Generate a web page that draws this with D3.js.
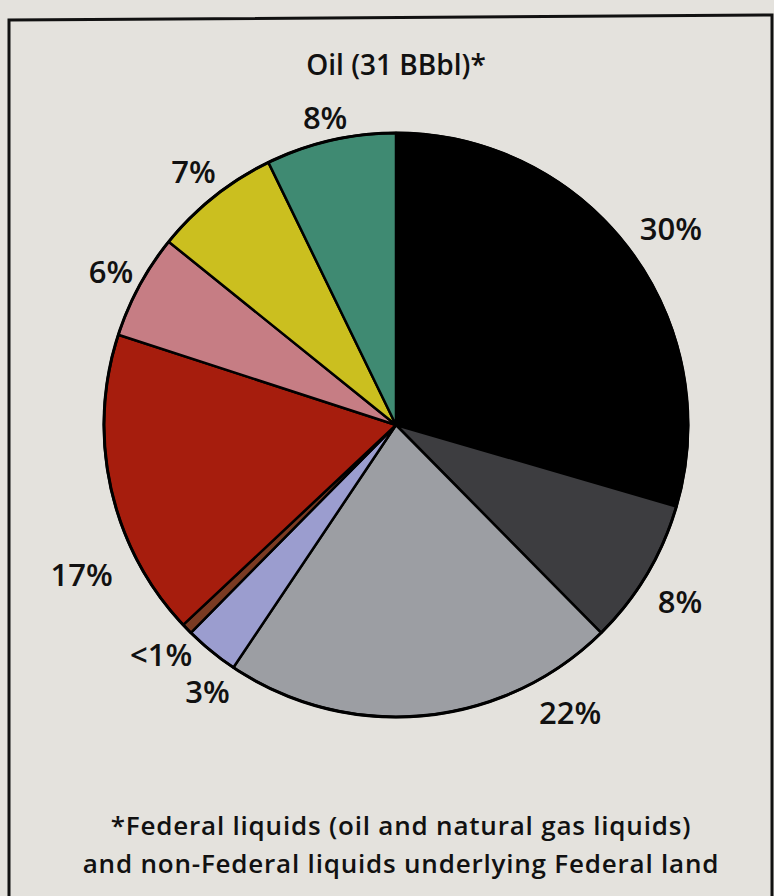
<!DOCTYPE html>
<html>
<head>
<meta charset="utf-8">
<script src="https://cdn.jsdelivr.net/npm/d3@7"></script>
<style>
  html, body { margin: 0; padding: 0; background: #e4e2dd; }
  svg { display: block; }
  text { font-family: "Open Sans", sans-serif; font-weight: 600; fill: #111; }
</style>
</head>
<body>
<svg id="chart"></svg>
<script>
// Slices, clockwise from 12 o'clock (shares)
const categories = ['s1', 's2', 's3', 's4', 's5', 's6', 's7', 's8', 's9'];
const values = [29.5, 8.1, 21.8, 3.0, 0.6, 17.0, 5.8, 7.0, 7.2];
const labels = ['30%', '8%', '22%', '3%', '<1%', '17%', '6%', '7%', '8%'];
const colors = ['#000000', '#3d3d40', '#9c9ea3', '#9b9dcf', '#7a3a22', '#a61d0d', '#c67d84', '#cbbf1f', '#3f8a72'];

const title = 'Oil (31 BBbl)*';
const notes = [
    '*Federal liquids (oil and natural gas liquids)',
    'and non-Federal liquids underlying Federal land'
];

/**
 * Visual configs.
 */
const visWidth = 774, visHeight = 896;
const cx = 396, cy = 425, radius = 292;
// Label placement per slice: angle shift from slice middle (degrees) and distance from centre
const labelShiftDeg = [1.3, 1.0, -25.8, -3.9, 0, -12.8, 0, 0, 0];
const labelRadii = [338, 334, 336, 326, 328, 348, 324, 325, 316];

const svg = d3.select('#chart').attr('width', visWidth).attr('height', visHeight);

// Frame
svg.append('path')
    .attr('d', 'M9,900 L9,20 L772,15 L772,900')
    .attr('fill', 'none')
    .attr('stroke', '#111')
    .attr('stroke-width', 3);

svg.append('text')
    .attr('x', 396).attr('y', 75)
    .attr('text-anchor', 'middle')
    .attr('font-size', 28)
    .text(title);

const pie = d3.pie().sort(null).value(d => d.value);
const arcs = pie(categories.map((c, i) => ({ id: c, index: i, value: values[i], label: labels[i], color: colors[i] })));

const arc = d3.arc().innerRadius(0).outerRadius(radius);

const g = svg.append('g').attr('transform', 'translate(' + cx + ',' + cy + ')');

g.selectAll('.slice').data(arcs).enter().append('path')
    .attr('class', 'slice')
    .attr('d', arc)
    .attr('fill', d => d.data.color)
    .attr('stroke', '#000')
    .attr('stroke-width', 2.5)
    .attr('stroke-linejoin', 'round');

g.append('circle')
    .attr('r', radius)
    .attr('fill', 'none')
    .attr('stroke', '#000')
    .attr('stroke-width', 3);

g.selectAll('.label').data(arcs).enter().append('text')
    .attr('class', 'label')
    .attr('text-anchor', 'middle')
    .attr('dominant-baseline', 'central')
    .attr('font-size', 31)
    .attr('transform', d => {
        const i = d.data.index;
        const a = (d.startAngle + d.endAngle) / 2 + labelShiftDeg[i] * Math.PI / 180;
        const r = labelRadii[i];
        return 'translate(' + (r * Math.sin(a)) + ',' + (-r * Math.cos(a)) + ')';
    })
    .text(d => d.data.label);

svg.selectAll('.note').data(notes).enter().append('text')
    .attr('class', 'note')
    .attr('x', 401)
    .attr('y', (d, i) => 835 + i * 38)
    .attr('text-anchor', 'middle')
    .attr('font-size', 26)
    .attr('letter-spacing', 0.8)
    .text(d => d);
</script>
</body>
</html>
